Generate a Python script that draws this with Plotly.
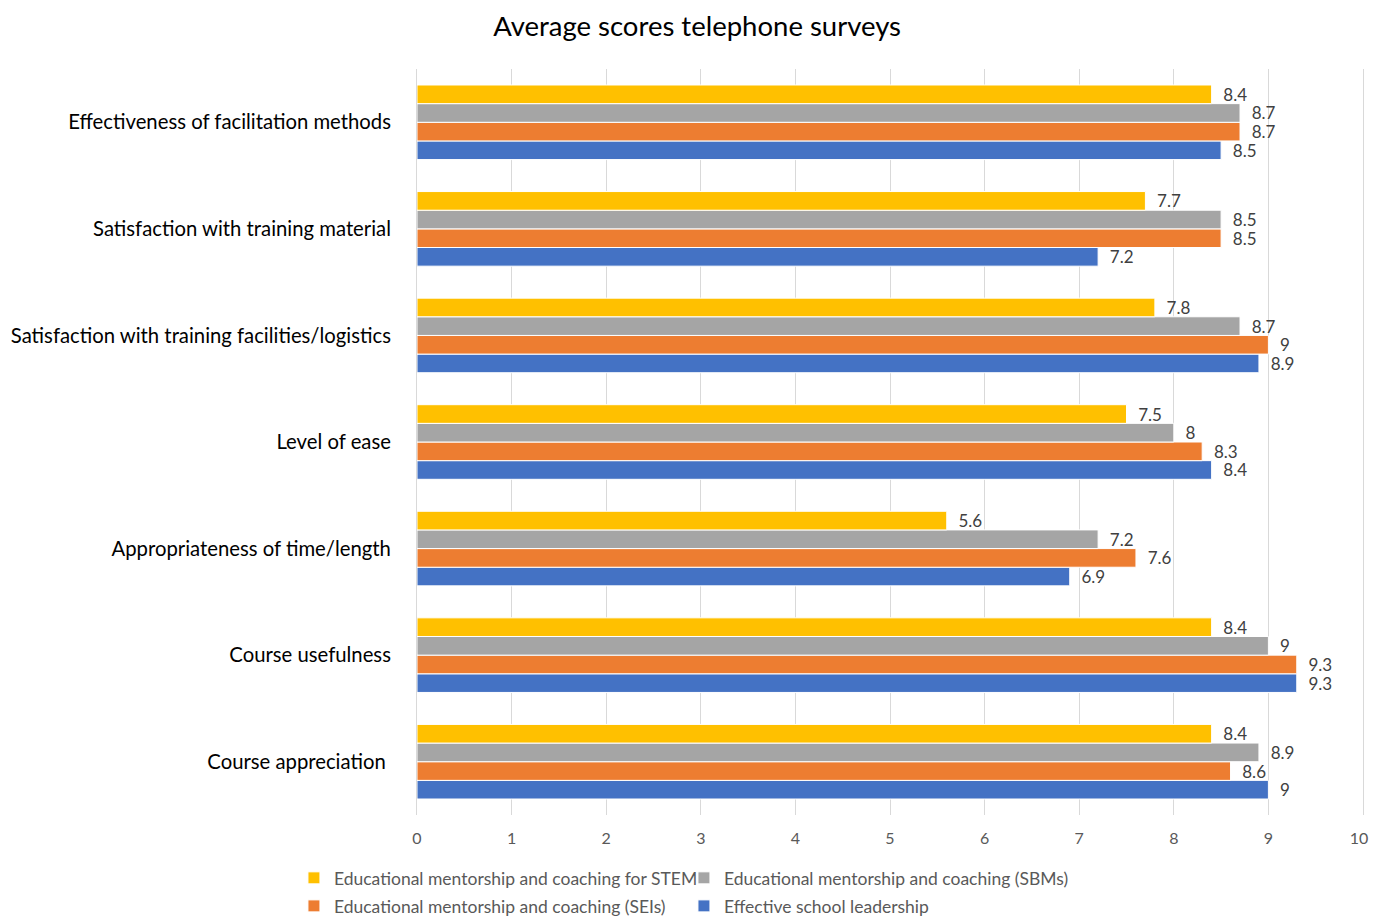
import plotly.graph_objects as go

# categories listed bottom -> top (plotly draws first category at the bottom)
categories = [
    "Course appreciation ",
    "Course usefulness",
    "Appropriateness of time/length",
    "Level of ease",
    "Satisfaction with training facilities/logistics",
    "Satisfaction with training material",
    "Effectiveness of facilitation methods",
]

leadership = [9, 9.3, 6.9, 8.4, 8.9, 7.2, 8.5]
seis = [8.6, 9.3, 7.6, 8.3, 9, 8.5, 8.7]
sbms = [8.9, 9, 7.2, 8, 8.7, 8.5, 8.7]
stem = [8.4, 8.4, 5.6, 7.5, 7.8, 7.7, 8.4]

x_ticks = list(range(0, 11))
# last label nudged left a touch so it isn't clipped at the window edge
x_ticktext = [str(v) for v in x_ticks[:-1]] + ["10\u00a0\u00a0"]

BLUE = "#4472C4"
ORANGE = "#ED7D31"
GREY = "#A5A5A5"
YELLOW = "#FFC000"
GRID = "#D9D9D9"
FONT = "Lato, 'Open Sans', sans-serif"

# page has an 8px body margin, so the figure is sized/shifted to compensate
W, H = 1361, 908

series = [
    ("Effective school leadership", leadership, BLUE, "legend2"),
    ("Educational mentorship and coaching (SEIs)", seis, ORANGE, "legend2"),
    ("Educational mentorship and coaching (SBMs)", sbms, GREY, "legend"),
    ("Educational mentorship and coaching for STEM", stem, YELLOW, "legend"),
]

fig = go.Figure()
for name, vals, color, leg in series:
    fig.add_trace(go.Bar(
        y=categories, x=vals, orientation="h", name=name,
        marker=dict(color=color, line=dict(color="white", width=1)),
        texttemplate="\u00a0\u00a0%{x}", textposition="outside",
        textfont=dict(size=17, color="#404040"), constraintext="none",
        cliponaxis=False, legend=leg,
    ))

legend_style = dict(orientation="h", xref="container", yref="container",
                    x=0.2101, xanchor="left", yanchor="middle",
                    traceorder="reversed", font=dict(size=17.5, color="#595959"),
                    itemwidth=30, entrywidth=345, tracegroupgap=0,
                    bgcolor="rgba(0,0,0,0)")

fig.update_layout(
    title=dict(text="Average scores telephone surveys", x=0.5063, xanchor="center",
               yref="container", y=0.980, yanchor="middle",
               font=dict(size=27.5, color="#000000")),
    barmode="group", bargap=0.3, bargroupgap=0,
    width=W, height=H,
    margin=dict(t=61, b=101, l=409, r=6, autoexpand=False),
    paper_bgcolor="white", plot_bgcolor="white",
    font=dict(family=FONT, color="#595959"),
    xaxis=dict(range=[0, 10], tickvals=x_ticks, ticktext=x_ticktext, showgrid=True,
               gridcolor=GRID, gridwidth=1, zeroline=False, showline=False, ticks="",
               automargin=False, ticklabeloverflow="allow",
               tickfont=dict(size=16, color="#595959"), ticklabelstandoff=12),
    yaxis=dict(showgrid=False, ticks="", showline=True, mirror=True, linecolor=GRID,
               linewidth=1, automargin=False,
               tickfont=dict(size=20.3, color="#000000"), ticklabelstandoff=21),
    legend=dict(legend_style, y=0.0419),
    legend2=dict(legend_style, y=0.011),
    showlegend=True,
)

fig.write_html("out.html")
